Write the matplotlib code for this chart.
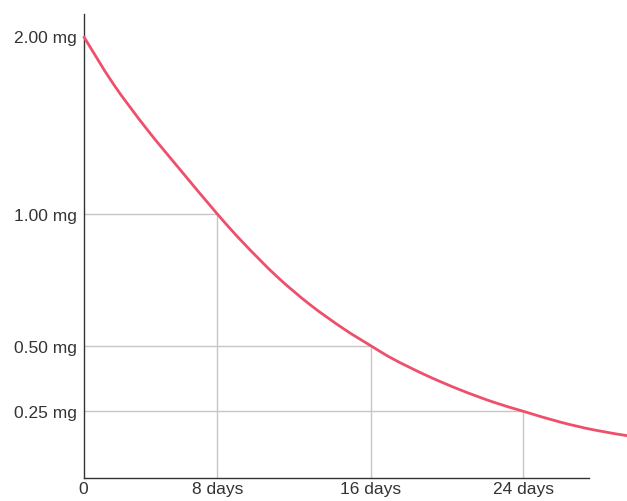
import numpy as np
import matplotlib.pyplot as plt
from matplotlib.path import Path
from matplotlib.patches import PathPatch
from matplotlib.transforms import IdentityTransform

# half-life curve
days = [0, 1.78, 3.78, 5.77, 8, 9.36, 11.10, 12.83, 14.57, 16,
        17.18, 18.94, 20.68, 22.43, 24, 25.92, 27.67, 29.44]
dose_mg = [2.00, 1.732, 1.478, 1.250, 1.00, 0.890, 0.763, 0.656, 0.565, 0.50,
           0.449, 0.386, 0.332, 0.285, 0.25, 0.210, 0.181, 0.159]

# points that get the drop lines
mark_days = [8, 16, 24]
mark_mg = [1.00, 0.50, 0.25]

x_ticks = [0, 8, 16, 24]
x_labels = ['0', '8 days', '16 days', '24 days']
y_ticks = [0.25, 0.50, 1.00, 2.00]
y_labels = ['0.25 mg', '0.50 mg', '1.00 mg', '2.00 mg']

# the original axes are not linear, so map them piece by piece
x_nodes = [0, 8, 16, 24, 40]
x_pos = [0, 133.8, 287.2, 439.8, 439.8 + 16 * 19.075]
y_nodes = [0, 0.25, 0.5, 1, 2, 3]
y_pos = [0, 67, 132.6, 264.3, 442, 619.7]


def fwd(nodes, pos):
    return lambda v: np.interp(v, nodes, pos)


def inv(nodes, pos):
    return lambda p: np.interp(p, pos, nodes)


def smooth_path(pts):
    # catmull-rom through the points, as cubic bezier pieces
    p = np.vstack([pts[0], pts, pts[-1]])
    verts = [p[1]]
    codes = [Path.MOVETO]
    for i in range(1, len(p) - 2):
        c1 = p[i] + (p[i + 1] - p[i - 1]) / 6
        c2 = p[i + 1] - (p[i + 2] - p[i]) / 6
        verts += [c1, c2, p[i + 1]]
        codes += [Path.CURVE4] * 3
    return Path(verts, codes)


plt.rcParams['font.family'] = ['Liberation Sans', 'DejaVu Sans']

fig = plt.figure(figsize=(6.27, 5.02), dpi=100)
W, H = 627, 502
left, right, top, bottom = 83.5, 589.3, 15, 479.3
ax = fig.add_axes([left / W, (H - bottom) / H, (right - left) / W, (bottom - top) / H])

ax.set_xscale('function', functions=(fwd(x_nodes, x_pos), inv(x_nodes, x_pos)))
ax.set_yscale('function', functions=(fwd(y_nodes, y_pos), inv(y_nodes, y_pos)))
ax.set_xlim(0, 27.46)
ax.set_ylim(0, 2.125)

grid_color = '#c6c6c6'
for d, m in zip(mark_days, mark_mg):
    ax.plot([0, d], [m, m], color=grid_color, lw=1, zorder=1)
    ax.plot([d, d], [0, m], color=grid_color, lw=1, zorder=1)

pts = ax.transData.transform(np.column_stack([days, dose_mg]))
curve = PathPatch(smooth_path(pts), fill=False, edgecolor='#ee506c', lw=2,
                  transform=IdentityTransform(), zorder=3)
fig.add_artist(curve)

for side in ['top', 'right']:
    ax.spines[side].set_visible(False)
for side in ['left', 'bottom']:
    ax.spines[side].set_color('#333333')
    ax.spines[side].set_linewidth(1)

ax.set_xticks(x_ticks)
ax.set_xticklabels(x_labels)
ax.set_yticks(y_ticks)
ax.set_yticklabels(y_labels)
ax.xaxis.set_minor_locator(plt.NullLocator())
ax.yaxis.set_minor_locator(plt.NullLocator())
ax.tick_params(axis='both', length=0, labelsize=12.5, labelcolor='#333333')
ax.tick_params(axis='x', pad=2)
ax.tick_params(axis='y', pad=5)

fig.savefig('out.png', dpi=100)
